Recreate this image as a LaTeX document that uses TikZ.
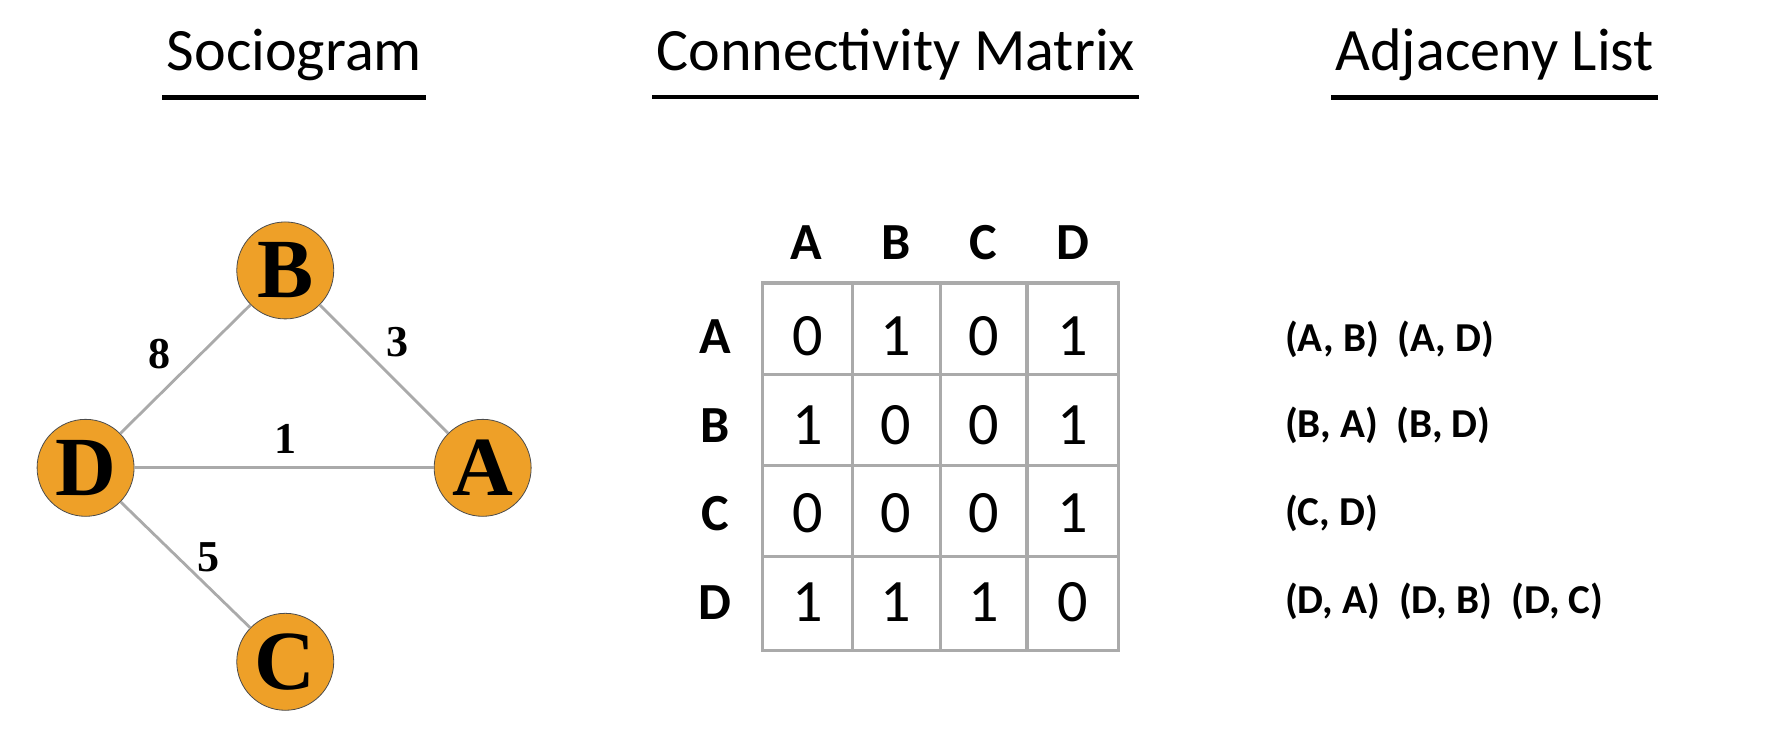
\documentclass[tikz,border=0pt]{standalone}
\usepackage{fontspec}
\setmainfont{Carlito}
\newfontfamily\timesfont{Liberation Serif}
\usetikzlibrary{positioning}
\definecolor{nodeorange}{RGB}{238,160,40}
\definecolor{gridgray}{RGB}{170,170,170}
\tikzset{
  vertex/.style={circle,draw=black!70,fill=nodeorange,minimum size=1.7cm,inner sep=0pt,font=\timesfont\fontsize{42}{42}\selectfont\bfseries},
  edge/.style={draw=gridgray,line width=1.4pt},
  weight/.style={font=\timesfont\fontsize{22}{22}\selectfont\bfseries},
  heading/.style={font=\fontsize{30}{30}\selectfont,inner sep=2pt},
  cell/.style={font=\fontsize{30}{30}\selectfont},
  label/.style={font=\fontsize{26}{26}\selectfont\bfseries},
  pairs/.style={font=\fontsize{20.5}{20.5}\selectfont\bfseries,anchor=west}
}
\begin{document}
\begin{tikzpicture}[x=0.02cm,y=-0.02cm]
  \useasboundingbox (0,0) rectangle (1560,653);
  % titles
  \foreach \n/\x/\t in {t1/258/Sociogram,t2/785/Connectivity Matrix,t3/1310/Adjaceny List}{
    \node[heading,anchor=base] (\n) at (\x,62) {\t};
    \draw[line width=2.2pt] ([yshift=-6pt]\n.south west) -- ([yshift=-6pt]\n.south east);
  }
  % sociogram
  \node[vertex] (B) at (250,237) {B};
  \node[vertex] (D) at (75,410) {D};
  \node[vertex] (A) at (423,410) {A};
  \node[vertex] (C) at (250,580) {C};
  \draw[edge] (D) -- (B);
  \draw[edge] (B) -- (A);
  \draw[edge] (D) -- (A);
  \draw[edge] (D) -- (C);
  \node[weight] (w8) at (140,310) {8};
  \node[weight] (w3) at (348,300) {3};
  \node[weight] (w1) at (250,385) {1};
  \node[weight] (w5) at (183,488) {5};
  % matrix grid
  \draw[gridgray,line width=1.6pt] (668,248) rectangle (980,570);
  \foreach \x in {747,824,900} \draw[gridgray,line width=1.6pt] (\x,248) -- (\x,570);
  \foreach \y in {328,408,488} \draw[gridgray,line width=1.6pt] (668,\y) -- (980,\y);
  \foreach \n/\x in {A/707,B/785,C/862,D/940}
    \node[label] (col\n) at (\x,213) {\n};
  \foreach \n/\y in {A/295,B/373,C/450,D/528}
    \node[label] (row\n) at (627,\y) {\n};
  % matrix entries
  \foreach \r/\vals in {295/{0,1,0,1},373/{1,0,0,1},450/{0,0,0,1},528/{1,1,1,0}}
    \foreach \v [count=\i] in \vals
      \node[cell] at (630+77.5*\i,\r) {\v};
  % adjacency list
  \node[pairs] (la) at (1120,297) {(A, B)\ \ (A, D)};
  \node[pairs] (lb) at (1120,373) {(B, A)\ \ (B, D)};
  \node[pairs] (lc) at (1120,450) {(C, D)};
  \node[pairs] (ld) at (1120,527) {(D, A)\ \ (D, B)\ \ (D, C)};
\end{tikzpicture}
\end{document}
